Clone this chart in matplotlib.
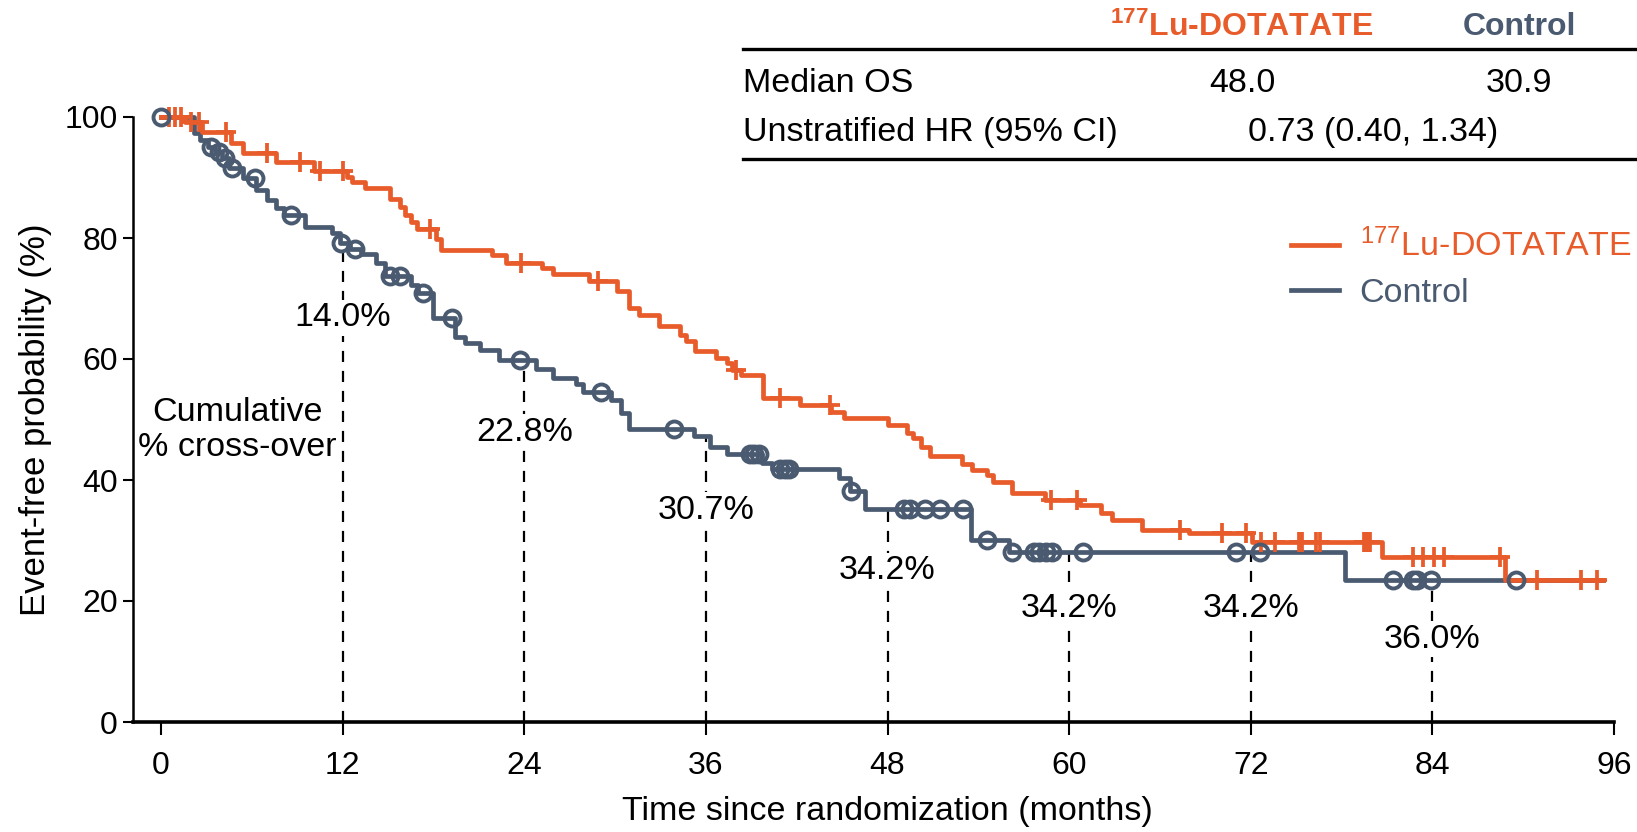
import numpy as np
import matplotlib
matplotlib.use("Agg")
import matplotlib.pyplot as plt

plt.rcParams['font.family'] = ['Liberation Sans', 'DejaVu Sans']
plt.rcParams['mathtext.fontset'] = 'custom'
plt.rcParams['mathtext.rm'] = 'Liberation Sans'
plt.rcParams['mathtext.bf'] = 'Liberation Sans:bold'
plt.rcParams['mathtext.default'] = 'regular'

# ---------------- data ----------------
lu_times = [1.6, 2.7, 4.6, 5.4, 7.6, 10.1, 12.3, 12.6, 13.5, 15.1,
            15.8, 16.1, 16.5, 16.9, 18.2, 18.5, 21.9, 22.8, 25.2, 25.9,
            28.3, 30.1, 30.9, 31.6, 32.9, 34.3, 34.7, 35.3, 36.7, 37.4,
            37.7, 38.3, 39.8, 42.2, 44.3, 45.1, 48.0, 49.3, 49.7, 50.2,
            50.8, 52.9, 53.6, 54.6, 55.0, 56.2, 58.4, 60.7, 62.1, 62.8,
            64.8, 67.9, 72.1, 80.7, 88.8]
lu_surv = [99.2, 97.6, 95.7, 94.0, 92.6, 91.0, 90.1, 89.3, 88.2, 86.5,
           85.2, 83.8, 82.7, 81.5, 79.8, 78.0, 77.2, 75.9, 75.1, 74.0,
           72.9, 71.3, 68.4, 67.3, 65.4, 64.0, 62.9, 61.3, 60.1, 59.3,
           58.2, 57.4, 53.5, 52.4, 51.3, 50.2, 49.1, 47.7, 46.9, 45.5,
           43.9, 42.7, 41.6, 40.8, 39.7, 37.8, 36.7, 35.9, 34.5, 33.4,
           31.7, 31.2, 29.8, 27.2, 23.5]
lu_censor = [0.5, 0.9, 1.3, 2.0, 2.5, 4.3, 7.0, 9.2, 10.5, 12.0, 17.8, 23.8,
             28.9, 38.0, 40.9, 44.2, 58.8, 60.5, 67.3, 70.1, 71.7, 72.7, 73.6,
             75.2, 75.4, 76.3, 76.6, 79.5, 79.7, 79.9, 82.7, 83.4, 84.1, 84.8,
             88.5, 90.9, 93.8, 94.9]

ctrl_times = [2.2, 2.6, 3.1, 3.6, 4.0, 4.5, 5.4, 6.3, 7.0, 7.6,
              8.1, 9.5, 11.3, 11.8, 12.5, 13.2, 14.2, 14.8, 16.5, 17.0,
              18.0, 19.4, 20.1, 21.1, 22.3, 24.8, 25.9, 27.4, 27.9, 29.7,
              30.4, 30.9, 35.2, 36.3, 37.4, 39.7, 40.4, 44.8, 45.5, 46.5,
              53.5, 56.0, 78.2]
ctrl_surv = [97.4, 96.2, 95.0, 94.2, 93.2, 91.6, 89.9, 88.0, 86.3, 85.0,
             83.8, 81.9, 80.8, 79.1, 78.1, 77.4, 75.8, 73.7, 72.2, 70.9,
             66.8, 63.7, 62.6, 61.5, 59.8, 58.4, 56.8, 55.9, 54.5, 53.2,
             51.0, 48.4, 47.2, 45.5, 44.3, 42.8, 41.8, 40.3, 38.1, 35.2,
             30.1, 28.1, 23.5]
ctrl_censor = [0.0, 3.3, 3.8, 4.2, 4.7, 6.2, 8.6, 11.9, 12.8, 15.1, 15.8, 17.3,
               19.2, 23.7, 29.1, 33.9, 38.9, 39.2, 39.5, 40.9, 41.2, 41.5, 45.6,
               49.1, 49.5, 50.5, 51.5, 53.0, 54.6, 56.2, 57.7, 58.0, 58.5, 58.9,
               60.9, 71.0, 72.6, 81.4, 82.7, 83.0, 83.9, 89.5]
end_time = 95.3

crossover_months = [12, 24, 36, 48, 60, 72, 84]
crossover_labels = ["14.0%", "22.8%", "30.7%", "34.2%", "34.2%", "34.2%", "36.0%"]
crossover_label_y = [66.8, 47.9, 35.0, 25.0, 18.8, 18.8, 13.7]

arm_names = [r"$^{177}$Lu-DOTATATE", "Control"]
median_os = ["48.0", "30.9"]
hr_text = "0.73 (0.40, 1.34)"

ORANGE = "#E85B2A"
BLUE = "#4A5A70"

# ---------------- helpers ----------------
def km_arrays(times, surv, end):
    t = np.concatenate([[0.0], times, [end]])
    s = np.concatenate([[100.0], surv, [surv[-1]]])
    return t, s

def surv_at(tq, times, surv):
    t = np.concatenate([[0.0], times])
    s = np.concatenate([[100.0], surv])
    idx = np.searchsorted(t, np.asarray(tq), side='right') - 1
    return s[idx]

W, H = 1637, 832
fig = plt.figure(figsize=(W / 100, H / 100), dpi=100)
ax = fig.add_axes([133 / W, 1 - 722 / H, (1614 - 133) / W, (722 - 117) / H])
ax.set_xlim(-1.85, 96)
ax.set_ylim(0, 100)

# crossover dashed lines
for m, lab, ly in zip(crossover_months, crossover_labels, crossover_label_y):
    top = surv_at(m, ctrl_times, ctrl_surv)
    ax.plot([m, m], [0, top], color='black', lw=1.6, ls=(0, (5, 4)), zorder=1)
    ax.text(m, ly, lab, ha='center', va='center', fontsize=24.5, color='black',
            zorder=2, bbox=dict(facecolor='white', edgecolor='none', pad=2))

# KM curves
tl, sl = km_arrays(lu_times, lu_surv, end_time)
tc, sc = km_arrays(ctrl_times, ctrl_surv, end_time)
ax.step(tc, sc, where='post', color=BLUE, lw=3.4, zorder=3, clip_on=False, label=arm_names[1])
ax.step(tl, sl, where='post', color=ORANGE, lw=3.4, zorder=4, clip_on=False, label=arm_names[0])
ax.plot(lu_censor, surv_at(lu_censor, lu_times, lu_surv), ls='none', marker='+',
        ms=14, mew=2.7, color=ORANGE, zorder=5, clip_on=False)
ax.plot(ctrl_censor, surv_at(ctrl_censor, ctrl_times, ctrl_surv), ls='none', marker='o',
        ms=11.5, mew=2.8, mfc='none', mec=BLUE, zorder=6, clip_on=False)

ax.text(5.05, 48.3, "Cumulative\n% cross-over", ha='center', va='center', fontsize=24.5,
        linespacing=1.15, zorder=2)

# axes styling
for sp in ['top', 'right']:
    ax.spines[sp].set_visible(False)
ax.spines['left'].set_linewidth(1.8)
ax.spines['bottom'].set_linewidth(2.6)
ax.set_xticks(np.arange(0, 97, 12))
ax.set_yticks(np.arange(0, 101, 20))
ax.tick_params(axis='both', labelsize=23, width=1.5, direction='out')
ax.tick_params(axis='x', length=9, pad=12)
ax.tick_params(axis='y', length=7, pad=4)
ax.set_ylabel("Event-free probability (%)", fontsize=25)
ax.yaxis.set_label_coords(-0.055, 0.5)
ax.set_xlabel("Time since randomization (months)", fontsize=24.5)
ax.xaxis.set_label_coords((48 + 1.85) / 97.85, -0.122)

# legend
handles, labels = ax.get_legend_handles_labels()
order = [1, 0]
leg = fig.legend([handles[i] for i in order], [labels[i] for i in order],
                 loc='upper left', bbox_to_anchor=(1291 / W, 1 - 229 / H),
                 frameon=False, fontsize=24.5, handlelength=1.4, handletextpad=0.62,
                 labelspacing=0.42, borderpad=0, borderaxespad=0)
for txt, col in zip(leg.get_texts(), [ORANGE, BLUE]):
    txt.set_color(col)

# summary table
def fx(px):
    return px / W

def fy(py):
    return 1 - py / H

fig.text(fx(1242), fy(27), r"$^{\mathbf{177}}$Lu-DOTATATE", color=ORANGE, fontsize=23,
         fontweight='bold', ha='center', va='center')
fig.text(fx(1519), fy(27), "Control", color=BLUE, fontsize=23, fontweight='bold',
         ha='center', va='center')
fig.add_artist(plt.Line2D([fx(743), 1.0], [fy(49), fy(49)], color='black', lw=2.4))
fig.text(fx(743), fy(83), "Median OS", fontsize=24.5, ha='left', va='center')
fig.text(fx(1242), fy(83), median_os[0], fontsize=24.5, ha='center', va='center')
fig.text(fx(1519), fy(83), median_os[1], fontsize=24.5, ha='center', va='center')
fig.text(fx(743), fy(133), "Unstratified HR (95% CI)", fontsize=24.5, ha='left', va='center')
fig.text(fx(1373), fy(133), hr_text, fontsize=24.5, ha='center', va='center')
fig.add_artist(plt.Line2D([fx(743), 1.0], [fy(159), fy(159)], color='black', lw=2.4))

fig.savefig("out.png", dpi=100, facecolor='white')
